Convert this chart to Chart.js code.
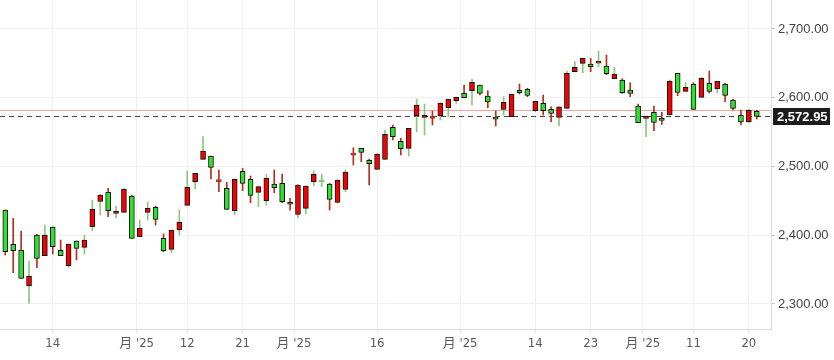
<!DOCTYPE html>
<html><head><meta charset="utf-8">
<script src="https://cdn.jsdelivr.net/npm/chart.js@4.4.1/dist/chart.umd.min.js"></script>
<style>html,body{margin:0;padding:0;background:#fff;}#wrap{width:834px;height:360px;}</style>
</head><body><div id="wrap"><canvas id="c" width="834" height="360"></canvas></div>
<script>
const opens = [2436.7,2386.7,2378.5,2326.1,2400.3,2370.2,2412.0,2378.0,2355.7,2391.6,
 2382.4,2412.4,2449.0,2462.4,2431.8,2433.3,2457.0,2397.9,2433.3,2440.5,
 2395.5,2379.5,2408.1,2443.5,2477.9,2510.3,2515.2,2478.0,2468.2,2435.7,
 2492.9,2481.2,2462.3,2450.2,2474.4,2475.4,2446.0,2430.3,2439.0,2477.8,
 2477.8,2474.4,2447.8,2466.7,2516.7,2526.3,2508.9,2495.8,2510.3,2556.9,
 2536.5,2526.3,2573.9,2571.5,2570.1,2573.9,2585.5,2595.7,2606.4,2610.2,
 2618.5,2602.5,2570.0,2583.1,2572.4,2610.7,2612.1,2581.1,2591.8,2583.1,
 2571.4,2584.5,2637.8,2650.0,2649.0,2650.4,2646.1,2627.7,2625.7,2611.2,
 2587.9,2569.9,2578.7,2570.0,2574.8,2635.4,2609.2,2619.4,2600.5,2620.9,
 2612.6,2619.4,2596.6,2574.3,2565.1,2580.1];
const highs = [2436.7,2424.5,2406.1,2362.5,2401.3,2414.8,2412.0,2393.0,2387.2,2391.6,
 2400.3,2451.2,2459.5,2468.2,2442.5,2468.2,2458.5,2422.1,2448.3,2442.5,
 2401.8,2407.1,2436.7,2493.4,2490.0,2543.3,2515.2,2494.8,2476.9,2482.0,
 2497.2,2486.1,2471.5,2488.5,2494.8,2489.0,2453.6,2474.0,2472.0,2493.3,
 2489.0,2475.4,2480.3,2494.8,2527.3,2526.3,2510.8,2519.0,2553.0,2560.3,
 2540.9,2555.5,2598.1,2590.8,2580.7,2592.3,2597.6,2601.0,2618.5,2626.7,
 2618.5,2610.2,2580.7,2601.5,2605.0,2619.9,2613.6,2595.0,2603.9,2586.9,
 2586.9,2638.8,2652.4,2657.2,2657.2,2667.9,2662.1,2644.1,2627.7,2621.8,
 2590.8,2573.3,2587.9,2578.7,2625.7,2635.4,2622.3,2621.8,2629.6,2638.8,
 2623.8,2620.9,2598.1,2582.1,2583.0,2581.6];
const lows = [2371.2,2345.5,2337.3,2300.9,2352.8,2370.2,2372.7,2370.2,2353.8,2364.0,
 2372.7,2406.6,2429.4,2427.0,2425.5,2433.3,2395.5,2397.9,2422.1,2414.8,
 2376.1,2374.6,2400.3,2443.5,2467.2,2510.3,2481.7,2463.3,2437.6,2429.8,
 2464.8,2447.3,2441.5,2443.9,2461.8,2447.3,2436.6,2425.5,2430.8,2472.0,
 2470.6,2436.6,2446.3,2463.3,2502.1,2506.9,2473.0,2495.8,2510.3,2538.5,
 2516.7,2515.2,2550.6,2545.8,2560.3,2567.6,2572.4,2591.8,2600.1,2589.4,
 2604.0,2585.5,2558.8,2574.8,2572.4,2605.4,2601.5,2579.7,2574.8,2565.1,
 2558.8,2584.5,2637.8,2636.4,2637.8,2645.1,2633.5,2627.7,2606.3,2601.5,
 2563.7,2543.3,2552.0,2561.2,2574.8,2602.9,2609.2,2583.0,2600.5,2606.8,
 2607.3,2594.2,2582.1,2560.3,2563.6,2569.0];
const closes = [2376.0,2377.5,2337.3,2340.7,2366.4,2400.3,2383.3,2370.2,2387.2,2380.9,
 2393.0,2437.6,2458.2,2435.7,2432.8,2466.7,2395.5,2410.0,2439.1,2423.1,
 2377.5,2407.1,2418.7,2469.6,2490.0,2522.5,2498.7,2477.9,2437.6,2481.2,
 2475.4,2458.0,2470.6,2482.7,2469.1,2448.7,2445.0,2473.0,2471.5,2488.5,
 2477.9,2452.1,2480.3,2491.9,2516.6,2520.5,2504.0,2517.6,2546.7,2543.3,
 2525.9,2555.5,2589.4,2574.8,2570.0,2592.3,2597.6,2600.5,2600.1,2622.4,
 2606.4,2593.8,2568.8,2593.3,2604.9,2607.3,2603.4,2594.7,2581.1,2577.2,
 2586.9,2635.4,2644.1,2657.2,2645.1,2651.4,2634.9,2634.4,2607.3,2606.3,
 2563.7,2572.4,2564.1,2567.0,2624.3,2607.8,2615.0,2583.0,2628.1,2609.2,
 2623.8,2603.4,2584.5,2564.6,2581.6,2572.95];
const tickPositions = [6, 16.6, 23, 30, 36.5, 47, 57.5, 67, 74, 80.6, 87, 94];
const tickLabels = ['14', "月 '25", '12', '21', "月 '25", '16', "月 '25", '14', '23', "月 '25", '11', '20'];
const yTicks = [2300, 2400, 2500, 2600, 2700];

const UP_BODY = '#f50000', DOWN_BODY = '#2fe02f';
const UP_WICK = '#8cc67a', DOWN_WICK = '#b5301c';

const bodyData = [], wickData = [], bodyFill = [], bodyBorder = [], wickColor = [];
for (let i = 0; i < opens.length; i++) {
  const up = closes[i] > opens[i];
  const cross = Math.abs(closes[i] - opens[i]) < 0.3;
  bodyData.push({x: i, y: [opens[i], closes[i]]});
  wickData.push({x: i, y: [lows[i], highs[i]]});
  const wc = up ? UP_WICK : DOWN_WICK;
  wickColor.push(wc);
  bodyFill.push(cross ? wc : (up ? UP_BODY : DOWN_BODY));
  bodyBorder.push(cross ? wc : '#111');
}

const fmt = v => v.toLocaleString('en-US', {minimumFractionDigits: 2, maximumFractionDigits: 2});

const refLines = {
  id: 'refLines',
  beforeDatasetsDraw(chart) {
    const {ctx, chartArea: a, scales: {y}} = chart;
    const last = closes[closes.length - 1], prev = closes[closes.length - 2];
    ctx.save();
    const yp = Math.round(y.getPixelForValue(prev)) + 0.5;
    ctx.strokeStyle = '#f6a3a3'; ctx.lineWidth = 1;
    ctx.beginPath(); ctx.moveTo(a.left, yp); ctx.lineTo(a.right, yp); ctx.stroke();
    const yl = Math.round(y.getPixelForValue(last)) + 0.5;
    ctx.strokeStyle = '#444'; ctx.setLineDash([5, 4]);
    ctx.beginPath(); ctx.moveTo(a.left, yl); ctx.lineTo(a.right, yl); ctx.stroke();
    ctx.restore();
  },
  afterDraw(chart) {
    const {ctx, chartArea: a, scales: {y}} = chart;
    const last = closes[closes.length - 1];
    const yl = Math.round(y.getPixelForValue(last));
    ctx.save();
    ctx.fillStyle = '#1c1c1c';
    ctx.fillRect(a.right + 2, yl - 8, 57, 17);
    ctx.fillStyle = '#fff';
    ctx.font = 'bold 13px "Liberation Sans", Arial, sans-serif';
    ctx.textBaseline = 'middle';
    ctx.textAlign = 'left';
    ctx.fillText(fmt(last), a.right + 6, yl + 1);
    ctx.restore();
  }
};

new Chart(document.getElementById('c'), {
  type: 'bar',
  data: {
    datasets: [
      {label: 'body', data: bodyData, backgroundColor: bodyFill, borderColor: bodyBorder,
       borderWidth: 1, borderSkipped: false, barThickness: 5, minBarLength: 2, grouped: false},
      {label: 'wick', data: wickData, backgroundColor: wickColor, borderWidth: 0,
       barThickness: 1, grouped: false}
    ]
  },
  options: {
    responsive: false, animation: false, devicePixelRatio: 1,
    layout: {padding: 0},
    plugins: {legend: {display: false}, tooltip: {enabled: false}},
    scales: {
      x: {
        type: 'linear', min: -0.67, max: 96.8, offset: false,
        grid: {offset: false, color: '#f1f1f1', tickColor: '#e2e2e2', tickLength: 4},
        border: {color: '#dcdcdc'},
        afterBuildTicks: s => { s.ticks = tickPositions.map(v => ({value: v})); },
        afterFit: s => { s.height = 31; s.paddingLeft = 0; s.paddingRight = 0; },
        ticks: {
          autoSkip: false, maxRotation: 0, minRotation: 0, padding: 3,
          color: '#5a5a5a',
          font: {family: '"Liberation Sans Narrow", "DejaVu Sans Condensed", "Noto Sans CJK JP", sans-serif', size: 13},
          callback: (v, i) => tickLabels[i]
        }
      },
      y: {
        position: 'right', min: 2263.6, max: 2742.1,
        grid: {color: '#f1f1f1', tickColor: '#c8c8c8', tickLength: 4},
        border: {color: '#dcdcdc'},
        afterBuildTicks: s => { s.ticks = yTicks.map(v => ({value: v})); },
        afterFit: s => { s.width = 63; s.paddingTop = 0; s.paddingBottom = 0; },
        ticks: {
          padding: 3, color: '#444',
          font: {family: '"Liberation Sans", Arial, sans-serif', size: 13},
          callback: v => fmt(v)
        }
      }
    }
  },
  plugins: [refLines]
});
</script>
</body></html>
